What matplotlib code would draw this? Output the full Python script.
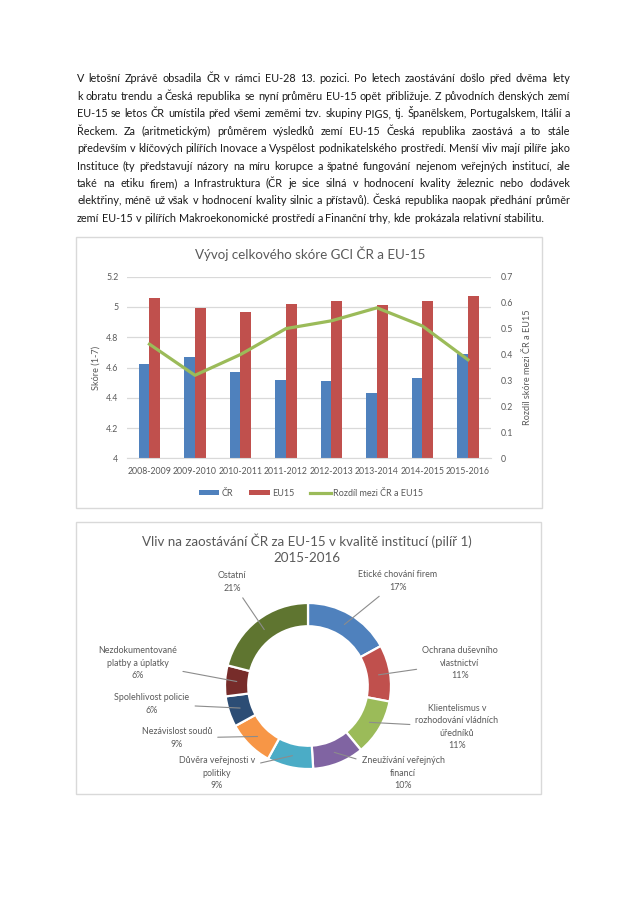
import numpy as np
import matplotlib
matplotlib.use("Agg")
import matplotlib.pyplot as plt
from matplotlib.patches import Rectangle

plt.rcParams['font.family'] = ['Lato', 'DejaVu Sans']

# paragraph text
para_lines = [
    "V letošní Zprávě obsadila ČR v rámci EU-28 13. pozici. Po letech zaostávání došlo před dvěma lety",
    "k obratu trendu a Česká republika se nyní průměru EU-15 opět přibližuje. Z původních členských zemí",
    "EU-15 se letos ČR umístila před všemi zeměmi tzv. skupiny PIGS, tj. Španělskem, Portugalskem, Itálií a",
    "Řeckem. Za (aritmetickým) průměrem výsledků zemí EU-15 Česká republika zaostává a to stále",
    "především v klíčových pilířích Inovace a Vyspělost podnikatelského prostředí. Menší vliv mají pilíře jako",
    "Instituce (ty představují názory na míru korupce a špatné fungování nejenom veřejných institucí, ale",
    "také na etiku firem) a Infrastruktura (ČR je sice silná v hodnocení kvality železnic nebo dodávek",
    "elektřiny, méně už však v hodnocení kvality silnic a přístavů). Česká republika naopak předhání průměr",
    "zemí EU-15 v pilířích Makroekonomické prostředí a Finanční trhy, kde prokázala relativní stabilitu.",
]

# bar chart data
years = ["2008-2009", "2009-2010", "2010-2011", "2011-2012",
         "2012-2013", "2013-2014", "2014-2015", "2015-2016"]
score_cr = [4.62, 4.67, 4.57, 4.52, 4.51, 4.43, 4.53, 4.69]
score_eu15 = [5.06, 4.99, 4.97, 5.02, 5.04, 5.01, 5.04, 5.07]
diff = [0.44, 0.32, 0.40, 0.50, 0.53, 0.58, 0.51, 0.38]
left_ticks = [4, 4.2, 4.4, 4.6, 4.8, 5, 5.2]
right_ticks = [0, 0.1, 0.2, 0.3, 0.4, 0.5, 0.6, 0.7]

# donut data
pie_labels = ["Etické chování firem", "Ochrana duševního\nvlastnictví",
              "Klientelismus v\nrozhodování vládních\núředníků",
              "Zneužívání veřejných\nfinancí", "Důvěra veřejnosti v\npolitiky",
              "Nezávislost soudů", "Spolehlivost policie",
              "Nezdokumentované\nplatby a úplatky", "Ostatní"]
pie_values = [17, 11, 11, 10, 9, 9, 6, 6, 21]
pie_colors = ["#4F81BD", "#C0504D", "#9BBB59", "#8064A2", "#4BACC6",
              "#F79646", "#2C4D75", "#772C2A", "#5F7530"]

W, H = 640, 906
fig = plt.figure(figsize=(W / 100, H / 100), dpi=100)
fig.patch.set_facecolor("white")

def fx(px):
    return px / W

def fy(py):
    return 1 - py / H

gray = "#595959"

# --- justified paragraph (words placed on a common baseline) ---
renderer = fig.canvas.get_renderer()
x_left, x_right = 77, 570
y0, dy = 82.5, 17.4
fs_par = 7.8
t_a = fig.text(0, 0, "x x", fontsize=fs_par)
t_b = fig.text(0, 0, "xx", fontsize=fs_par)
space_w = t_a.get_window_extent(renderer).width - t_b.get_window_extent(renderer).width
t_a.remove()
t_b.remove()
for i, line in enumerate(para_lines):
    words = line.split(" ")
    y = fy(y0 + i * dy)
    texts = [fig.text(0, y, w, fontsize=fs_par, color="#1a1a1a", va="baseline")
             for w in words]
    widths = [t.get_window_extent(renderer).width for t in texts]
    if i < len(para_lines) - 1:
        gap = (x_right - x_left - sum(widths)) / (len(words) - 1)
    else:
        gap = space_w
    x = x_left
    for t, w in zip(texts, widths):
        t.set_x(fx(x))
        x += w + gap

# --- chart boxes ---
for (bx0, by0, bx1, by1) in [(76, 237, 542, 508), (76, 522, 541, 794)]:
    fig.patches.append(Rectangle((fx(bx0), fy(by1)), fx(bx1) - fx(bx0),
                                 fy(by0) - fy(by1), transform=fig.transFigure,
                                 fill=False, edgecolor="#D9D9D9", linewidth=1.0))

# --- bar + line chart ---
ax = fig.add_axes([fx(126.7), fy(458.3), fx(490.7) - fx(126.7), fy(276.7) - fy(458.3)])
x = np.arange(len(years))
bw = 0.24
ax.bar(x - bw / 2, score_cr, bw, color="#4F81BD", label="ČR", zorder=2)
ax.bar(x + bw / 2, score_eu15, bw, color="#C0504D", label="EU15", zorder=2)
ax.set_ylim(4, 5.2)
ax.set_xlim(-0.5, len(years) - 0.5)
ax.set_yticks(left_ticks)
ax.set_yticklabels([f"{v:g}" for v in left_ticks])
ax.set_xticks(x)
ax.set_xticklabels(years)
ax.grid(axis="y", color="#D9D9D9", linewidth=0.9, zorder=0)
ax.set_axisbelow(True)
for s in ["top", "left", "right"]:
    ax.spines[s].set_visible(False)
ax.spines["bottom"].set_color("#D9D9D9")
ax.tick_params(length=0, labelsize=6.3, colors=gray, pad=6)
ax.set_ylabel("Skóre (1-7)", fontsize=6.6, color=gray, labelpad=4)

ax2 = ax.twinx()
ax2.plot(x, diff, color="#9BBB59", linewidth=2.3, label="Rozdíl mezi ČR a EU15", zorder=3)
ax2.set_ylim(0, 0.7)
ax2.set_yticks(right_ticks)
ax2.set_yticklabels([f"{v:g}" for v in right_ticks])
for s in ["top", "left", "right", "bottom"]:
    ax2.spines[s].set_visible(False)
ax2.tick_params(length=0, labelsize=6.3, colors=gray, pad=7)
ax2.set_ylabel("Rozdíl skóre mezi ČR a EU15", fontsize=6.6, color=gray, labelpad=7)

fig.text(fx(310), fy(254), "Vývoj celkového skóre GCI ČR a EU-15",
         fontsize=9.6, color=gray, ha="center", va="center")

h1, l1 = ax.get_legend_handles_labels()
h2, l2 = ax2.get_legend_handles_labels()
fig.legend(h1 + h2, l1 + l2, loc="center", bbox_to_anchor=(fx(311), fy(493)),
           ncol=3, frameon=False, fontsize=6.5, labelcolor=gray,
           handlelength=2.3, handleheight=0.5, handletextpad=0.3,
           columnspacing=1.7)

# --- donut chart ---
cx, cy, R = 308, 686, 83
pax = fig.add_axes([fx(80), fy(790), fx(540) - fx(80), fy(600) - fy(790)])
wedges, _ = pax.pie(pie_values, colors=pie_colors, startangle=90, counterclock=False,
                    radius=1.0, wedgeprops=dict(width=0.28, edgecolor="white", linewidth=1.6))
pax.set_aspect("auto")
pax.set_xlim((80 - cx) / R, (540 - cx) / R)
pax.set_ylim((cy - 790) / R, (cy - 600) / R)
pax.axis("off")

# label positions (px) for each slice
label_pos = [(398, 581), (460, 663), (457, 727), (403, 773), (217, 773),
             (177, 738), (152, 704), (138, 663), (232, 582)]
total = sum(pie_values)
cum = 0
for lab, v, (lx, ly) in zip(pie_labels, pie_values, label_pos):
    mid = np.deg2rad(90 - 360 * (cum + v / 2) / total)
    cum += v
    px_ = 0.86 * np.cos(mid)
    py_ = 0.86 * np.sin(mid)
    pax.annotate(f"{lab}\n{v}%", xy=(px_, py_),
                 xytext=((lx - cx) / R, (cy - ly) / R), textcoords="data",
                 ha="center", va="center", fontsize=6.4, color=gray,
                 linespacing=1.5,
                 arrowprops=dict(arrowstyle="-", color="#8C8C8C", lw=0.8,
                                 shrinkA=2, shrinkB=0))

fig.text(fx(307), fy(549), "Vliv na zaostávání ČR za EU-15 v kvalitě institucí (pilíř 1)\n2015-2016",
         fontsize=9.6, color=gray, ha="center", va="center", linespacing=1.45)

fig.savefig("out.png", dpi=100, facecolor="white")
